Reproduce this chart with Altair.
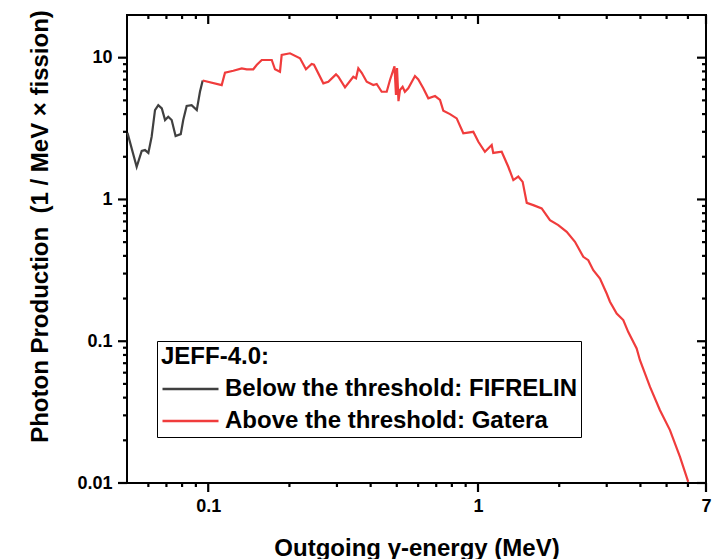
import math
import altair as alt
import pandas as pd

# ---- data ----
below_x = [0.0502, 0.0543, 0.0567, 0.0583, 0.0600, 0.0617, 0.0635, 0.0653, 0.0673, 0.0692,
           0.0711, 0.0732, 0.0757, 0.0791, 0.0808, 0.0832, 0.0868, 0.0907, 0.0932, 0.0954]
below_y = [2.95, 1.70, 2.20, 2.23, 2.13, 2.77, 4.27, 4.63, 4.39, 3.63,
           3.83, 3.63, 2.80, 2.89, 3.63, 4.56, 4.63, 4.27, 5.75, 6.90]

above_x = [0.0954, 0.1122, 0.1154, 0.1239, 0.1331, 0.1389, 0.1469, 0.1512, 0.1579, 0.1720,
           0.1768, 0.1845, 0.1872, 0.2010, 0.2189, 0.2303, 0.2418, 0.2466, 0.2671, 0.2787,
           0.2976, 0.3036, 0.3214, 0.3450, 0.3531, 0.3601, 0.3707, 0.3868, 0.4092, 0.4212,
           0.4395, 0.4588, 0.4718, 0.4903, 0.4966, 0.5010, 0.5073, 0.5137, 0.5255, 0.5359,
           0.5514, 0.5840, 0.6008, 0.6269, 0.6545, 0.6930, 0.7230, 0.7438, 0.7873, 0.8337,
           0.8822, 0.9607, 1.003, 1.061, 1.124, 1.139, 1.224, 1.295, 1.352, 1.410,
           1.464, 1.516, 1.603, 1.722, 1.848, 1.984, 2.132, 2.288, 2.456, 2.563,
           2.675, 2.832, 2.999, 3.084, 3.266, 3.455, 3.606, 3.873, 3.984, 4.341,
           4.726, 5.146, 5.606, 6.015]
above_y = [6.90, 6.41, 7.83, 8.09, 8.41, 8.28, 8.28, 8.87, 9.63, 9.63,
           8.28, 7.96, 10.44, 10.74, 9.90, 8.28, 9.02, 8.92, 6.59, 6.77,
           7.63, 7.34, 6.18, 7.34, 7.15, 8.41, 7.83, 6.77, 6.41, 6.52,
           5.75, 5.75, 6.96, 8.68, 5.45, 8.45, 4.94, 5.91, 6.24, 5.75,
           6.08, 7.42, 7.03, 6.08, 5.17, 5.36, 5.03, 4.22, 4.00, 3.73,
           2.93, 3.00, 2.55, 2.17, 2.42, 2.13, 2.17, 1.70, 1.37, 1.45,
           1.33, 0.947, 0.912, 0.864, 0.715, 0.659, 0.591, 0.503, 0.394, 0.373,
           0.317, 0.277, 0.217, 0.190, 0.157, 0.141, 0.116, 0.0889, 0.0735, 0.0476,
           0.0326, 0.0236, 0.0153, 0.0102]

series_names = ["Below the threshold: FIFRELIN", "Above the threshold: Gatera"]
series_colors = ["#404040", "#f03c3c"]

x_major = [0.1, 1, 7]
x_minor = [0.06, 0.07, 0.08, 0.09, 0.2, 0.3, 0.4, 0.5, 0.6, 0.7, 0.8, 0.9, 2, 3, 4, 5, 6]
y_major = [0.01, 0.1, 1, 10]
y_minor = [0.02, 0.03, 0.04, 0.05, 0.06, 0.07, 0.08, 0.09,
           0.2, 0.3, 0.4, 0.5, 0.6, 0.7, 0.8, 0.9,
           2, 3, 4, 5, 6, 7, 8, 9]

X_DOMAIN = [0.05, 7]
Y_DOMAIN = [0.01, 20]

FONT = "Liberation Sans"
W, H = 579, 468
MAJ, MIN = 9, 4
TICK = "tick"

# curve rows
frames = [
    pd.DataFrame({"x": below_x, "y": below_y, "series": series_names[0], "grp": "below",
                  "order": range(len(below_x))}),
    pd.DataFrame({"x": above_x, "y": above_y, "series": series_names[1], "grp": "above",
                  "order": range(len(above_x))}),
]

# tick segments (two points each), length given in pixels along the log axes
x_ppd = W / math.log10(X_DOMAIN[1] / X_DOMAIN[0])
y_ppd = H / math.log10(Y_DOMAIN[1] / Y_DOMAIN[0])


def shift(v, px, ppd):
    return v * 10 ** (px / ppd)


rows = []
tid = 0
for vals, ln in ((x_major, MAJ), (x_minor, MIN)):
    for v in vals:
        rows += [(v, Y_DOMAIN[0], f"t{tid}", 0), (v, shift(Y_DOMAIN[0], -ln, y_ppd), f"t{tid}", 1)]
        tid += 1
        rows += [(v, Y_DOMAIN[1], f"t{tid}", 0), (v, shift(Y_DOMAIN[1], -ln, y_ppd), f"t{tid}", 1)]
        tid += 1
for vals, ln in ((y_major, MAJ), (y_minor, MIN)):
    for v in vals:
        rows += [(X_DOMAIN[0], v, f"t{tid}", 0), (shift(X_DOMAIN[0], -ln, x_ppd), v, f"t{tid}", 1)]
        tid += 1
        rows += [(X_DOMAIN[1], v, f"t{tid}", 0), (shift(X_DOMAIN[1], -ln, x_ppd), v, f"t{tid}", 1)]
        tid += 1
ticks_df = pd.DataFrame(rows, columns=["x", "y", "grp", "order"])
ticks_df["series"] = TICK
frames.append(ticks_df)
df = pd.concat(frames, ignore_index=True)

x_scale = alt.Scale(type="log", domain=X_DOMAIN, nice=False)
y_scale = alt.Scale(type="log", domain=Y_DOMAIN, nice=False)


def label_expr(vals):
    expr = "''"
    for v in reversed(vals):
        expr = f"datum.value == {v} ? '{v}' : {expr}"
    return expr


common_axis = dict(grid=False, ticks=False, domain=False,
                   labelFont=FONT, labelFontSize=18, labelFontWeight="bold",
                   labelColor="black", labelOverlap=False, labelFlush=False, labelBound=False,
                   titleFont=FONT, titleFontSize=24, titleFontWeight="bold", titleColor="black")

x_axis = alt.Axis(orient="bottom", values=x_major, labelExpr=label_expr(x_major),
                  labelPadding=MAJ + 5, title="Outgoing γ-energy (MeV)",
                  titleX=W / 2, titleY=65, titleAlign="center", titleBaseline="middle",
                  **common_axis)
y_axis = alt.Axis(orient="left", values=y_major, labelExpr=label_expr(y_major),
                  labelPadding=MAJ + 6, title="Photon Production\u00a0 (1 / MeV × fission)",
                  titleX=-87, titleY=211, titleAngle=270, titleAlign="center",
                  titleBaseline="middle", **common_axis)

chart = alt.Chart(df).mark_line(strokeWidth=2.2, strokeCap="butt").encode(
    x=alt.X("x:Q", scale=x_scale, axis=x_axis),
    y=alt.Y("y:Q", scale=y_scale, axis=y_axis),
    detail="grp:N",
    order="order:Q",
    color=alt.Color("series:N",
                    scale=alt.Scale(domain=series_names + [TICK],
                                    range=series_colors + ["black"]),
                    legend=alt.Legend(values=series_names,
                                      title="JEFF-4.0:", orient="none", legendX=30, legendY=326,
                                      direction="vertical", symbolType="stroke",
                                      symbolSize=3136, symbolStrokeWidth=2.5,
                                      labelFont=FONT, labelFontSize=24, labelFontWeight="bold",
                                      labelColor="black", labelLimit=800, labelOffset=5,
                                      titleFont=FONT, titleFontSize=24, titleFontWeight="bold",
                                      titleColor="black", titlePadding=8, rowPadding=8,
                                      clipHeight=24, padding=4, strokeColor="black",
                                      fillColor="white", cornerRadius=0)),
).properties(
    width=W, height=H,
    background="white",
    autosize=alt.AutoSizeParams(type="none"),
    padding={"left": 119, "top": 7, "right": 8, "bottom": 80},
).configure_view(stroke="black", strokeWidth=2)

chart.save("out.html", embed_options={"renderer": "svg", "actions": False})
